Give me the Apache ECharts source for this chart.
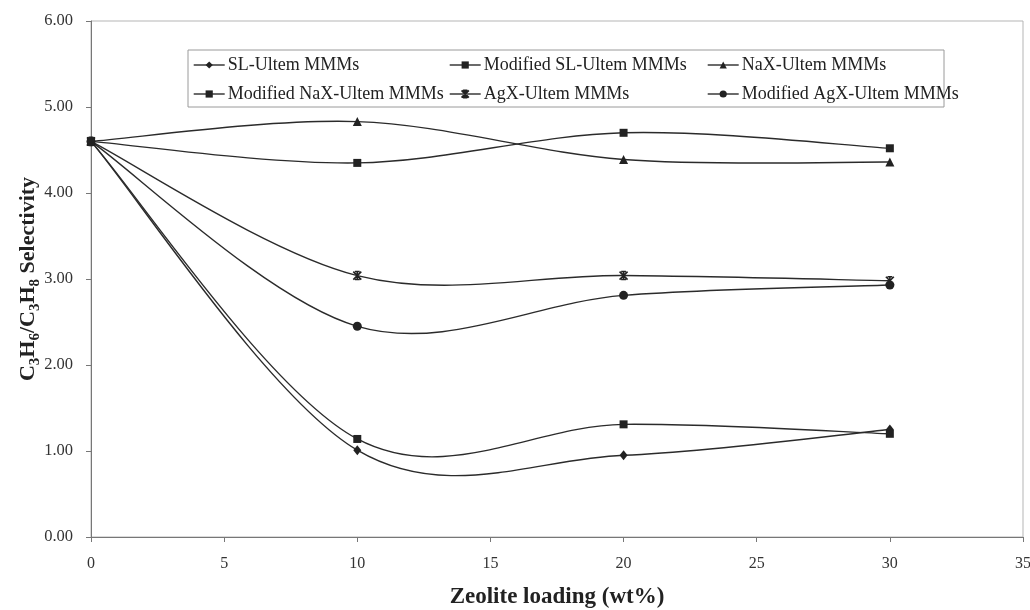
<!DOCTYPE html>
<html>
<head>
<meta charset="utf-8">
<script src="https://cdn.jsdelivr.net/npm/echarts@6/dist/echarts.min.js"></script>
<style>
  html, body { margin: 0; padding: 0; background: #fff; }
  #chart { width: 1030px; height: 610px; }
</style>
</head>
<body>
<div id="chart"></div>
<script>
// Zeolite loading (wt%) on the x axis
const xLoading = [0, 10, 20, 30];

// C3H6/C3H8 selectivity for each membrane series
const slUltem      = [4.60, 1.01, 0.95, 1.25];
const modSlUltem   = [4.60, 1.14, 1.31, 1.20];
const naxUltem     = [4.60, 4.83, 4.39, 4.36];
const modNaxUltem  = [4.60, 4.35, 4.70, 4.52];
const agxUltem     = [4.60, 3.04, 3.04, 2.98];
const modAgxUltem  = [4.60, 2.45, 2.81, 2.93];

const seriesNames = [
  'SL-Ultem MMMs', 'Modified SL-Ultem MMMs', 'NaX-Ultem MMMs',
  'Modified NaX-Ultem MMMs', 'AgX-Ultem MMMs', 'Modified AgX-Ultem MMMs'
];
const seriesValues = [slUltem, modSlUltem, naxUltem, modNaxUltem, agxUltem, modAgxUltem];

const FONT = '"Liberation Serif", "Times New Roman", serif';
const INK = '#222';
const LINE = '#2b2b2b';

const STAR = 'path://M0,0 L10,10 M10,0 L0,10 M5,0 L5,10 M2,0 L8,0 M2,10 L8,10';
const markers = [
  { symbol: 'diamond',  size: [8, 10] },
  { symbol: 'rect',     size: 8 },
  { symbol: 'triangle', size: 9 },
  { symbol: 'rect',     size: 8 },
  { symbol: STAR,       size: 8, hollow: true },
  { symbol: 'circle',   size: 9 }
];

// Smooth curve through the points (cardinal spline, tension 1/6 per side)
function curveSeries(ys) {
  return {
    type: 'custom',
    silent: true,
    z: 2,
    data: xLoading.map((x, i) => [x, ys[i]]),
    renderItem: function (params, api) {
      const i = params.dataIndex;
      if (i === 0) return null;
      const pts = xLoading.map((x, k) => api.coord([x, ys[k]]));
      const n = pts.length;
      const p0 = pts[Math.max(i - 2, 0)];
      const p1 = pts[i - 1];
      const p2 = pts[i];
      const p3 = pts[Math.min(i + 1, n - 1)];
      return {
        type: 'bezierCurve',
        shape: {
          x1: p1[0], y1: p1[1],
          cpx1: p1[0] + (p2[0] - p0[0]) / 6, cpy1: p1[1] + (p2[1] - p0[1]) / 6,
          cpx2: p2[0] - (p3[0] - p1[0]) / 6, cpy2: p2[1] - (p3[1] - p1[1]) / 6,
          x2: p2[0], y2: p2[1]
        },
        style: { stroke: LINE, lineWidth: 1.4, fill: 'none' }
      };
    }
  };
}

function markerSeries(name, ys, m) {
  const s = {
    type: 'line',
    name: name,
    z: 3,
    data: xLoading.map((x, i) => [x, ys[i]]),
    symbol: m.symbol,
    symbolSize: m.size,
    showAllSymbol: true,
    color: INK,
    lineStyle: { opacity: 0, color: LINE, width: 1.4 },
    itemStyle: { color: INK }
  };
  if (m.hollow) {
    s.itemStyle = { color: 'rgba(0,0,0,0)', borderColor: INK, borderWidth: 1.6 };
  }
  return s;
}

const series = [];
seriesValues.forEach((ys) => series.push(curveSeries(ys)));
seriesValues.forEach((ys, i) => series.push(markerSeries(seriesNames[i], ys, markers[i])));

function legendColumn(left, names) {
  return {
    orient: 'vertical',
    left: left,
    top: 56,
    padding: 0,
    itemGap: 11,
    itemWidth: 31,
    itemHeight: 9,
    data: names,
    selectedMode: false,
    textStyle: { fontFamily: FONT, fontSize: 18, color: INK, padding: [0, 0, 0, -2] },
    lineStyle: { opacity: 1, color: LINE, width: 1.4 }
  };
}

const option = {
  backgroundColor: '#fff',
  animation: false,
  grid: {
    left: 91, right: 7, top: 21, bottom: 73,
    outerBoundsMode: 'none',
    containLabel: false,
    show: true, borderColor: '#b5b5b5', borderWidth: 1
  },
  legend: [
    legendColumn(193, [seriesNames[0], seriesNames[3]]),
    legendColumn(449, [seriesNames[1], seriesNames[4]]),
    legendColumn(707, [seriesNames[2], seriesNames[5]])
  ],
  graphic: [{
    type: 'rect',
    shape: { x: 188, y: 50, width: 756, height: 57 },
    style: { fill: 'none', stroke: '#9a9a9a', lineWidth: 1 },
    z: 1
  }],
  xAxis: {
    type: 'value',
    min: 0, max: 35, interval: 5,
    name: 'Zeolite loading (wt%)',
    nameLocation: 'middle',
    nameGap: 49,
    nameMoveOverlap: false,
    nameTextStyle: { fontFamily: FONT, fontSize: 23, fontWeight: 'bold', color: INK },
    axisLine: { show: true, lineStyle: { color: '#777', width: 1 } },
    axisTick: { show: true, length: 5, lineStyle: { color: '#777' } },
    axisLabel: { fontFamily: FONT, fontSize: 16, color: '#333', margin: 19 },
    splitLine: { show: false }
  },
  yAxis: {
    type: 'value',
    min: 0, max: 6, interval: 1,
    name: '{m|C}{s|3}{m|H}{s|6}{m|/C}{s|3}{m|H}{s|8}{m| Selectivity}',
    nameLocation: 'middle',
    nameRotate: 90,
    nameGap: 48,
    nameMoveOverlap: false,
    nameTextStyle: {
      fontFamily: FONT, fontWeight: 'bold', color: INK,
      rich: {
        m: { fontFamily: FONT, fontSize: 22, fontWeight: 'bold', color: INK, lineHeight: 30 },
        s: { fontFamily: FONT, fontSize: 15, fontWeight: 'bold', color: INK, lineHeight: 30, verticalAlign: 'bottom' }
      }
    },
    axisLine: { show: true, lineStyle: { color: '#777', width: 1 } },
    axisTick: { show: true, length: 5, lineStyle: { color: '#777' } },
    axisLabel: {
      fontFamily: FONT, fontSize: 16.5, color: '#333', margin: 18,
      formatter: (v) => v.toFixed(2)
    },
    splitLine: { show: false }
  },
  series: series
};

const chart = echarts.init(document.getElementById('chart'), null, { renderer: 'canvas' });
chart.setOption(option);
</script>
</body>
</html>
